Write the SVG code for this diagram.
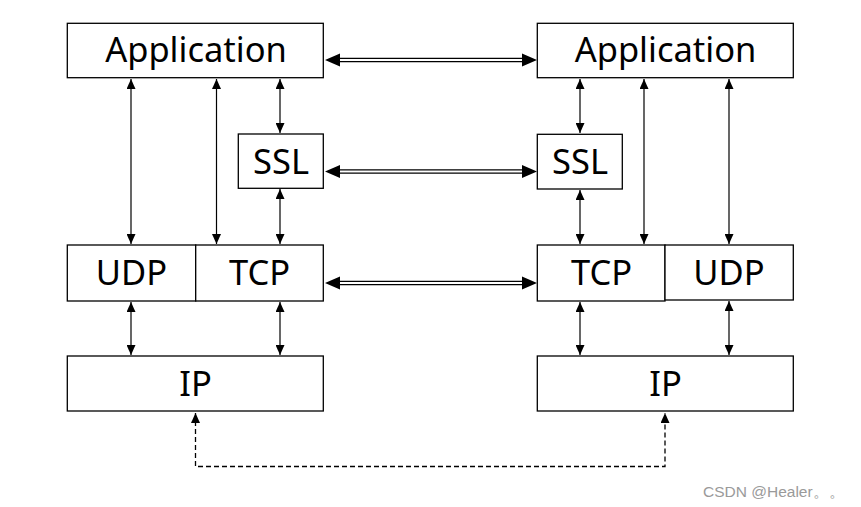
<svg xmlns="http://www.w3.org/2000/svg" width="861" height="507" viewBox="0 0 861 507">
<style>
.box{fill:#fff;stroke:#000;stroke-width:1.3}
.lbl{font-family:"Noto Sans","Open Sans",sans-serif;font-size:34.5px;fill:#000;text-anchor:middle}
.v{stroke:#000;stroke-width:1.2;fill:none;marker-start:url(#ah);marker-end:url(#ah)}
.d{stroke:#000;stroke-width:1.3;fill:none}
.dash{stroke:#000;stroke-width:1.3;fill:none;stroke-dasharray:5,3;marker-start:url(#ah);marker-end:url(#ah)}
.wm{font-family:"Liberation Sans",Arial,sans-serif;font-size:15.5px;fill:#9a9a9a}
</style>
<defs>
<marker id="ah" markerUnits="userSpaceOnUse" markerWidth="10" markerHeight="9" refX="10" refY="4.5" orient="auto-start-reverse" viewBox="0 0 10 9">
<path d="M0,0 L10,4.5 L0,9 z" fill="#000"/>
</marker>
</defs>
<rect width="861" height="507" fill="#fff"/>
<g id="connectors">
<line class="v" x1="131" y1="79" x2="131" y2="244"/>
<line class="v" x1="216.5" y1="79" x2="216.5" y2="244"/>
<line class="v" x1="280" y1="79" x2="280" y2="133"/>
<line class="v" x1="280" y1="189" x2="280" y2="244"/>
<line class="v" x1="131" y1="302" x2="131" y2="355"/>
<line class="v" x1="280" y1="302" x2="280" y2="355"/>
<line class="v" x1="580" y1="79" x2="580" y2="133"/>
<line class="v" x1="580" y1="190" x2="580" y2="244"/>
<line class="v" x1="644" y1="79" x2="644" y2="244"/>
<line class="v" x1="729" y1="79" x2="729" y2="244"/>
<line class="v" x1="580" y1="302" x2="580" y2="355"/>
<line class="v" x1="729" y1="301" x2="729" y2="355"/>
<path class="dash" d="M195.5,413 V466.5 H665 V413"/>
<g id="dbl1">
<line class="d" x1="336" y1="58.3" x2="526" y2="58.3"/>
<line class="d" x1="336" y1="61.7" x2="526" y2="61.7"/>
<path d="M325,60 L340,53.5 L340,66.5 z M537,60 L522,53.5 L522,66.5 z" fill="#000"/>
</g>
<g id="dbl2">
<line class="d" x1="336" y1="169.8" x2="526" y2="169.8"/>
<line class="d" x1="336" y1="173.2" x2="526" y2="173.2"/>
<path d="M325,171.5 L340,165 L340,178 z M537,171.5 L522,165 L522,178 z" fill="#000"/>
</g>
<g id="dbl3">
<line class="d" x1="336" y1="281.3" x2="526" y2="281.3"/>
<line class="d" x1="336" y1="284.7" x2="526" y2="284.7"/>
<path d="M325,283 L340,276.5 L340,289.5 z M537,283 L522,276.5 L522,289.5 z" fill="#000"/>
</g>
</g>
<g id="appL"><rect class="box" x="67.3" y="23.3" width="256" height="54.4"/><text class="lbl" x="196" y="62">Application</text></g>
<g id="sslL"><rect class="box" x="238.3" y="134" width="85" height="54.3"/><text class="lbl" x="281" y="173.5">SSL</text></g>
<g id="udpL"><rect class="box" x="67.3" y="245" width="128.4" height="56"/><text class="lbl" x="131.5" y="284.5">UDP</text></g>
<g id="tcpL"><rect class="box" x="195.7" y="245" width="127.6" height="56"/><text class="lbl" x="259.5" y="284.5">TCP</text></g>
<g id="ipL"><rect class="box" x="67.3" y="356" width="256" height="55"/><text class="lbl" x="195.5" y="395.5">IP</text></g>
<g id="appR"><rect class="box" x="537.3" y="23.3" width="256" height="54.4"/><text class="lbl" x="665.5" y="62">Application</text></g>
<g id="sslR"><rect class="box" x="537.3" y="134.3" width="85" height="54.7"/><text class="lbl" x="580" y="173.5">SSL</text></g>
<g id="tcpR"><rect class="box" x="537.3" y="245" width="127.7" height="56"/><text class="lbl" x="601.5" y="284.5">TCP</text></g>
<g id="udpR"><rect class="box" x="665" y="245" width="128.3" height="55"/><text class="lbl" x="729" y="284.5">UDP</text></g>
<g id="ipR"><rect class="box" x="537.3" y="356" width="256" height="55"/><text class="lbl" x="665.5" y="395.5">IP</text></g>
<text class="wm" x="703" y="497">CSDN @Healer。。</text>
</svg>
